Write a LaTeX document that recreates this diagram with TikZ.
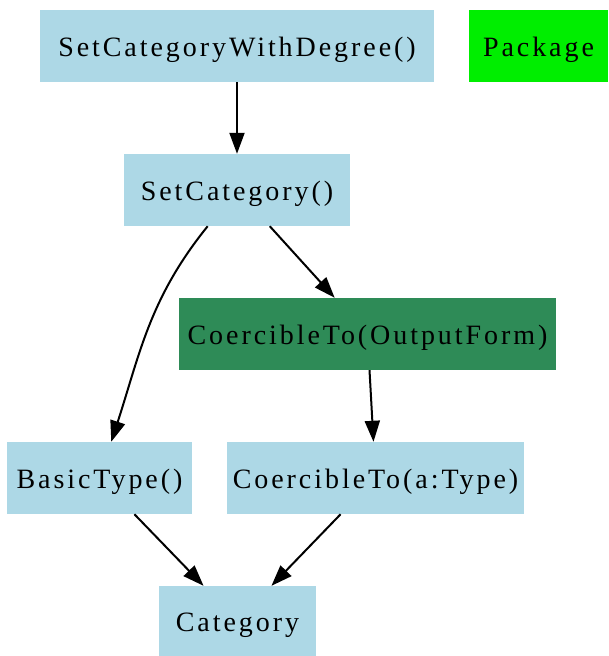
\documentclass[tikz,border=0pt]{standalone}
\usepackage{fontspec}
\setmainfont[LetterSpace=10.5]{Liberation Serif}
\usetikzlibrary{arrows.meta}
\definecolor{lblue}{RGB}{173,216,230}
\definecolor{pkggreen}{RGB}{0,238,0}
\definecolor{seagreen}{RGB}{46,139,87}

\begin{document}
\begin{tikzpicture}[x=1pt, y=1pt, font=\fontsize{28}{32}\selectfont,
		fn/.style={rectangle, fill=lblue, inner sep=0pt, minimum height=72pt, text height=24pt, text depth=4pt},
		dep/.style={-{Triangle[length=21pt, width=15pt]}, line width=2pt}]
			\useasboundingbox (0,0) rectangle (608,-656);
			\node[fn, minimum width=394pt] (withdeg) at (237,-46) {SetCategoryWithDegree()};
			\node[fn, fill=pkggreen, minimum width=139pt] (pkg) at (538.5,-46) {Package};
			\node[fn, minimum width=226pt] (setcat) at (237,-190) {SetCategory()};
			\node[fn, fill=seagreen, minimum width=377pt] (coerout) at (367.5,-334) {CoercibleTo(OutputForm)};
			\node[fn, minimum width=185pt] (basic) at (99.5,-478) {BasicType()};
			\node[fn, minimum width=297pt] (coertype) at (375.5,-478) {CoercibleTo(a:Type)};
			\node[fn, minimum width=157pt, minimum height=70pt] (cat) at (237.5,-621) {Category};
			\draw[dep] (withdeg) -- (setcat);
			\draw[dep] (setcat) -- (coerout);
			\draw[dep] (setcat) to[out=-129, in=72] (basic);
			\draw[dep] (coerout) -- (coertype);
			\draw[dep] (basic) -- (cat);
			\draw[dep] (coertype) -- (cat);
		\end{tikzpicture}
\end{document}
